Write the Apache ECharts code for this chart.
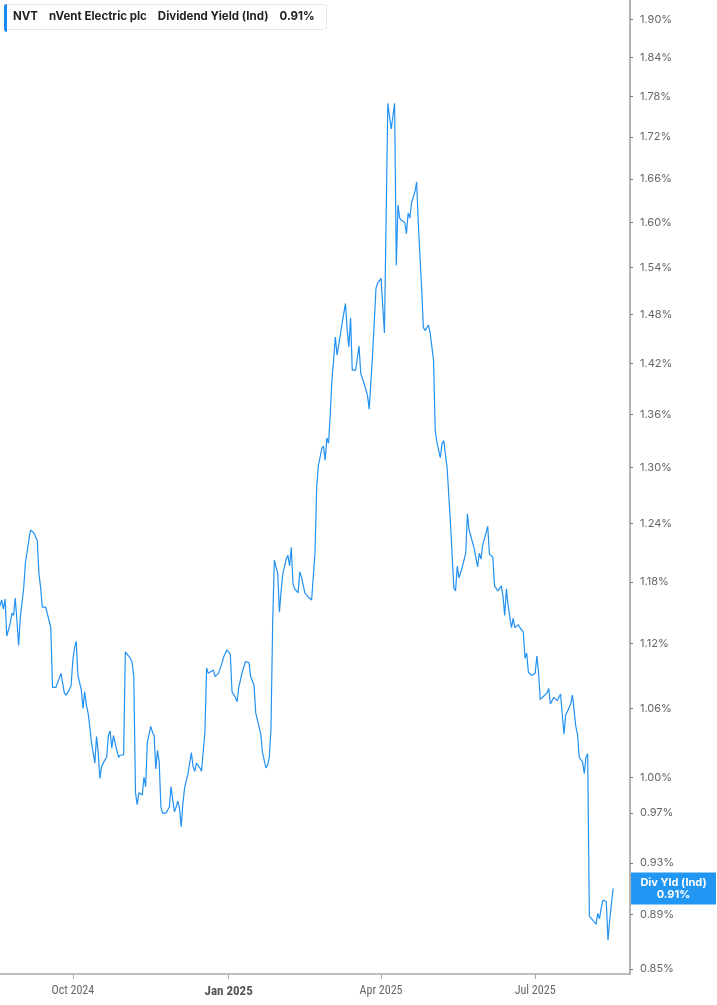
<!DOCTYPE html>
<html>
<head>
<meta charset="utf-8">
<script src="https://cdn.jsdelivr.net/npm/echarts@6/dist/echarts.min.js"></script>
<style>
html,body{margin:0;padding:0;background:#fff;}
#c{width:717px;height:1005px;}
</style>
</head>
<body>
<div id="c"></div>
<script>
const dates = [
'2024-08-19','2024-08-20','2024-08-21','2024-08-22','2024-08-23','2024-08-25','2024-08-26','2024-08-27','2024-08-28','2024-08-29',
'2024-08-30','2024-08-31','2024-09-02','2024-09-03','2024-09-05','2024-09-06','2024-09-08','2024-09-10','2024-09-11','2024-09-12',
'2024-09-13','2024-09-15','2024-09-16','2024-09-18','2024-09-19','2024-09-21','2024-09-22','2024-09-24','2024-09-25','2024-09-26',
'2024-09-27','2024-09-29','2024-09-30','2024-10-01','2024-10-02','2024-10-03','2024-10-04','2024-10-06','2024-10-07','2024-10-08',
'2024-10-09','2024-10-10','2024-10-11','2024-10-12','2024-10-14','2024-10-15','2024-10-16','2024-10-17','2024-10-18','2024-10-20',
'2024-10-21','2024-10-22','2024-10-23','2024-10-24','2024-10-25','2024-10-26','2024-10-28','2024-10-29','2024-10-31','2024-11-01',
'2024-11-04','2024-11-05','2024-11-06','2024-11-07','2024-11-08','2024-11-09','2024-11-10','2024-11-11','2024-11-12','2024-11-13',
'2024-11-14','2024-11-16','2024-11-17','2024-11-18','2024-11-19','2024-11-20','2024-11-21','2024-11-22','2024-11-23','2024-11-25',
'2024-11-26','2024-11-27','2024-11-28','2024-11-29','2024-11-30','2024-12-01','2024-12-02','2024-12-03','2024-12-04','2024-12-05',
'2024-12-06','2024-12-08','2024-12-10','2024-12-11','2024-12-12','2024-12-13','2024-12-15','2024-12-16','2024-12-18','2024-12-19',
'2024-12-20','2024-12-21','2024-12-23','2024-12-24','2024-12-26','2024-12-28','2024-12-29','2024-12-31','2025-01-02','2025-01-03',
'2025-01-05','2025-01-06','2025-01-07','2025-01-09','2025-01-11','2025-01-12','2025-01-13','2025-01-14','2025-01-16','2025-01-17',
'2025-01-20','2025-01-21','2025-01-23','2025-01-24','2025-01-25','2025-01-26','2025-01-27','2025-01-28','2025-01-29','2025-01-30',
'2025-01-31','2025-02-01','2025-02-02','2025-02-04','2025-02-05','2025-02-06','2025-02-07','2025-02-08','2025-02-09','2025-02-11',
'2025-02-12','2025-02-13','2025-02-14','2025-02-15','2025-02-16','2025-02-17','2025-02-19','2025-02-21','2025-02-22','2025-02-23',
'2025-02-25','2025-02-26','2025-02-27','2025-02-28','2025-03-01','2025-03-02','2025-03-03','2025-03-04','2025-03-05','2025-03-06',
'2025-03-07','2025-03-09','2025-03-11','2025-03-12','2025-03-13','2025-03-14','2025-03-15','2025-03-17','2025-03-18','2025-03-19',
'2025-03-20','2025-03-21','2025-03-22','2025-03-24','2025-03-25','2025-03-26','2025-03-27','2025-03-29','2025-03-30','2025-04-01',
'2025-04-03','2025-04-05','2025-04-07','2025-04-09','2025-04-10','2025-04-11','2025-04-12','2025-04-13','2025-04-15','2025-04-16',
'2025-04-17','2025-04-18','2025-04-19','2025-04-21','2025-04-22','2025-04-23','2025-04-25','2025-04-26','2025-04-27','2025-04-29',
'2025-04-30','2025-05-01','2025-05-02','2025-05-03','2025-05-04','2025-05-06','2025-05-07','2025-05-08','2025-05-10','2025-05-12',
'2025-05-14','2025-05-15','2025-05-16','2025-05-17','2025-05-19','2025-05-21','2025-05-22','2025-05-23','2025-05-26','2025-05-28',
'2025-05-29','2025-05-30','2025-05-31','2025-06-02','2025-06-03','2025-06-04','2025-06-06','2025-06-07','2025-06-09','2025-06-11',
'2025-06-12','2025-06-13','2025-06-14','2025-06-15','2025-06-17','2025-06-18','2025-06-19','2025-06-21','2025-06-22','2025-06-24',
'2025-06-25','2025-06-26','2025-06-27','2025-06-29','2025-07-01','2025-07-02','2025-07-03','2025-07-04','2025-07-06','2025-07-08',
'2025-07-09','2025-07-10','2025-07-12','2025-07-14','2025-07-15','2025-07-16','2025-07-17','2025-07-18','2025-07-19','2025-07-22',
'2025-07-23','2025-07-25','2025-07-26','2025-07-27','2025-07-29','2025-07-30','2025-07-31','2025-08-01','2025-08-02','2025-08-04',
'2025-08-06','2025-08-07','2025-08-08','2025-08-09','2025-08-10','2025-08-12','2025-08-13','2025-08-14','2025-08-16'
];
const yieldPct = [
1.156,1.162,1.153,1.163,1.127,1.139,1.149,1.147,1.164,1.142,
1.118,1.145,1.174,1.199,1.222,1.233,1.230,1.222,1.188,1.174,
1.155,1.155,1.155,1.135,1.079,1.079,1.080,1.092,1.091,1.074,
1.072,1.077,1.081,1.104,1.116,1.122,1.090,1.077,1.060,1.075,
1.063,1.056,1.044,1.030,1.012,1.035,1.021,0.999,1.009,1.015,
1.017,1.036,1.040,1.025,1.036,1.029,1.017,1.019,1.019,1.112,
1.106,1.102,1.089,0.987,0.977,0.987,0.986,0.985,1.000,0.992,
1.030,1.044,1.039,1.036,1.007,1.023,1.013,0.975,0.970,0.970,
0.970,0.975,0.992,0.981,0.971,0.975,0.980,0.974,0.959,0.978,
0.991,1.003,1.021,1.009,1.005,1.012,1.008,1.005,1.039,1.097,
1.092,1.093,1.095,1.089,1.092,1.101,1.107,1.114,1.110,1.075,
1.070,1.066,1.079,1.093,1.103,1.103,1.102,1.089,1.081,1.056,
1.037,1.021,1.008,1.010,1.017,1.041,1.139,1.202,1.203,1.188,
1.150,1.171,1.188,1.203,1.207,1.196,1.215,1.178,1.173,1.169,
1.190,1.185,1.187,1.169,1.167,1.165,1.162,1.209,1.279,1.302,
1.321,1.324,1.308,1.333,1.327,1.360,1.400,1.424,1.452,1.430,
1.442,1.469,1.494,1.460,1.440,1.476,1.412,1.412,1.410,1.441,
1.408,1.406,1.396,1.382,1.366,1.367,1.430,1.513,1.520,1.526,
1.457,1.770,1.732,1.770,1.543,1.624,1.606,1.603,1.600,1.585,
1.613,1.606,1.627,1.642,1.656,1.599,1.511,1.464,1.460,1.467,
1.457,1.457,1.424,1.341,1.328,1.311,1.327,1.330,1.300,1.240,
1.174,1.171,1.196,1.184,1.195,1.209,1.250,1.233,1.214,1.195,
1.209,1.203,1.217,1.230,1.237,1.208,1.205,1.176,1.171,1.176,
1.166,1.147,1.173,1.157,1.135,1.144,1.135,1.138,1.135,1.131,
1.106,1.111,1.093,1.090,1.092,1.108,1.093,1.068,1.071,1.074,
1.078,1.064,1.070,1.067,1.067,1.073,1.074,1.037,1.054,1.064,
1.072,1.044,1.037,1.017,1.013,1.003,1.017,1.020,0.889,0.886,
0.883,0.891,0.887,0.895,0.901,0.900,0.871,0.886,0.910
];
const yTicks = [0.85,0.89,0.93,0.97,1.00,1.06,1.12,1.18,1.24,1.30,1.36,1.42,1.48,1.54,1.60,1.66,1.72,1.78,1.84,1.90];
const xTickDates = ['2024-10-01','2025-01-01','2025-04-01','2025-07-01'];
const xRange = ['2024-08-19','2025-08-26'];
const yRange = [0.8464,1.932];
const lastValue = 0.91;
const ticker = 'NVT', company = 'nVent Electric plc', metric = 'Dividend Yield (Ind)';
const endLabelTitle = 'Div Yld (Ind)';

const t = s => echarts.number.parseDate(s).getTime();
const MONTHS = ['Jan','Feb','Mar','Apr','May','Jun','Jul','Aug','Sep','Oct','Nov','Dec'];
const chart = echarts.init(document.getElementById('c'));
const lineColor = '#2191f3';
chart.setOption({
  animation: false,
  backgroundColor: '#fff',
  title: {
    left: 4, top: 4,
    text: '{a|' + ticker + '}{a|' + company + '}{c|' + metric + '}{d|' + lastValue.toFixed(2) + '%}',
    backgroundColor: '#fff',
    borderColor: '#e6e6e6', borderWidth: 1, borderRadius: 3,
    padding: [7, 12, 7, 9],
    textStyle: {
      rich: {
        a: {fontFamily: 'Inter', fontWeight: 'bold', fontSize: 11.5, color: '#222', padding: [0, 11, 0, 0]},
        c: {fontFamily: 'Inter', fontSize: 11.5, color: '#222', padding: [0, 11, 0, 0]},
        d: {fontFamily: 'Inter', fontWeight: 'bold', fontSize: 11.5, color: '#222'}
      }
    }
  },
  graphic: [{type: 'rect', left: 4, top: 4, shape: {width: 3, height: 28, r: [3, 0, 0, 3]}, style: {fill: '#1e88f0'}, z: 100}],
  grid: {left: 0, right: 87, top: 0, bottom: 31},
  xAxis: {
    type: 'value',
    min: t(xRange[0]), max: t(xRange[1]),
    axisLine: {show: true, lineStyle: {color: '#aaa', width: 1.5}},
    axisTick: {show: true, length: 5, lineStyle: {color: '#aaa'}, customValues: xTickDates.map(t)},
    splitLine: {show: false},
    axisLabel: {
      customValues: xTickDates.map(t),
      margin: 11,
      formatter: function (v) {
        const d = new Date(v);
        const s = MONTHS[d.getMonth()] + ' ' + d.getFullYear();
        return d.getMonth() === 0 ? '{b|' + s + '}' : '{a|' + s + '}';
      },
      rich: {
        a: {fontFamily: 'Liberation Sans Narrow, Roboto Condensed, Roboto', fontSize: 12, color: '#666'},
        b: {fontFamily: 'Liberation Sans Narrow, Roboto Condensed, Roboto', fontSize: 13, fontWeight: 'bold', color: '#555'}
      }
    }
  },
  yAxis: {
    type: 'log',
    logBase: 10,
    position: 'right',
    min: yRange[0], max: yRange[1],
    axisLine: {show: true, lineStyle: {color: '#999', width: 1.5}},
    axisTick: {show: true, length: 3, lineStyle: {color: '#777'}, customValues: yTicks},
    splitLine: {show: false},
    minorTick: {show: false},
    axisLabel: {
      customValues: yTicks,
      margin: 10,
      fontFamily: 'Inter', fontSize: 11, color: '#666',
      formatter: v => Number(v).toFixed(2) + '%'
    }
  },
  series: [{
    type: 'line',
    data: dates.map((d, i) => [t(d), yieldPct[i]]),
    showSymbol: false,
    lineStyle: {color: lineColor, width: 1.2},
    itemStyle: {color: lineColor},
    markLine: {
      silent: true,
      symbol: 'none',
      lineStyle: {color: 'rgba(0,0,0,0)', width: 0},
      data: [{yAxis: lastValue}],
      label: {
        show: true,
        position: 'end',
        distance: 1,
        formatter: '{a|' + endLabelTitle + '}\n{a|' + lastValue.toFixed(2) + '%}',
        backgroundColor: '#2196f3',
        padding: [4, 0, 4, 0],
        rich: {
          a: {width: 85, align: 'center', color: '#fff', fontFamily: 'Inter', fontWeight: 'bold', fontSize: 11, lineHeight: 12}
        }
      }
    }
  }]
});
</script>
</body>
</html>
